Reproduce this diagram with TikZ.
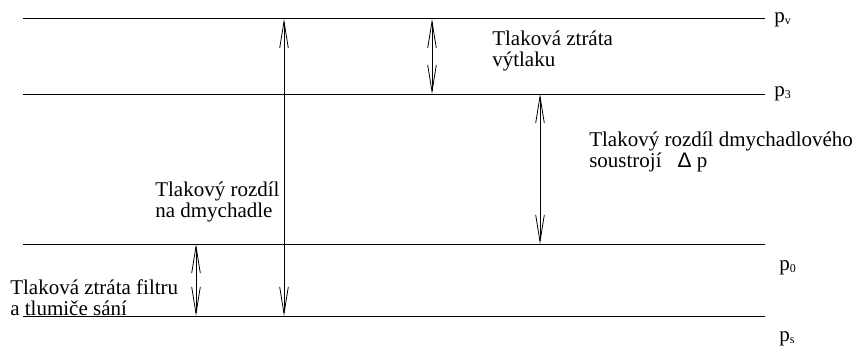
\documentclass[tikz,border=0pt]{standalone}
\usepackage{fontspec}
\setmainfont{Liberation Serif}
\newfontfamily\deltafont{Liberation Sans}
\usetikzlibrary{arrows.meta}
\newcommand{\sub}[1]{\raisebox{-1.5pt}{\fontsize{9pt}{9pt}\selectfont #1}}
\begin{document}
\begin{tikzpicture}[x=0.75pt,y=-0.75pt,
  level/.style={line width=0.75pt},
  barb/.tip={Straight Barb[length=20pt,width=6.5pt,line width=0.6pt]},
  gap/.style={line width=0.6pt,barb-barb},
  lbl/.style={font=\fontsize{15.75pt}{15.4pt}\selectfont,inner sep=0pt,align=left,anchor=base west},
  plab/.style={font=\fontsize{15.75pt}{15.4pt}\selectfont,inner sep=0pt,anchor=base west}]
\useasboundingbox (0,0) rectangle (855,346);

% pressure levels
\coordinate (pv-l) at (23,19);  \coordinate (pv-r) at (765,19);
\coordinate (p3-l) at (23,94);  \coordinate (p3-r) at (765,94);
\coordinate (p0-l) at (23,244); \coordinate (p0-r) at (765,244);
\coordinate (ps-l) at (23,316); \coordinate (ps-r) at (765,316);
\draw[level] (pv-l) -- (pv-r);
\draw[level] (p3-l) -- (p3-r);
\draw[level] (p0-l) -- (p0-r);
\draw[level] (ps-l) -- (ps-r);

% level labels
\node[plab] (lv) at (774,23)  {p\sub{v}};
\node[plab] (l3) at (774,96)  {p\sub{3}};
\node[plab] (l0) at (779,270) {p\sub{0}};
\node[plab] (ls) at (779,341) {p\sub{s}};

% dimension arrows
\coordinate (blower-t) at (284,19);  \coordinate (blower-b) at (284,316);
\coordinate (disch-t)  at (432,19);  \coordinate (disch-b)  at (432,94);
\coordinate (set-t)    at (540,94);  \coordinate (set-b)    at (540,244);
\coordinate (filt-t)   at (196,244); \coordinate (filt-b)   at (196,316);
\draw[gap] (blower-t) -- (blower-b);
\draw[gap] (disch-t) -- (disch-b);
\draw[gap] (set-t) -- (set-b);
\draw[gap] (filt-t) -- (filt-b);

% descriptions (anchored on the baseline of their last line)
\node[lbl] (tdisch) at (492,66) {Tlaková ztráta\\výtlaku};
\node[lbl] (tset) at (589,167) {Tlakový rozdíl dmychadlového\\soustrojí\hspace{12pt}{\deltafont Δ} p};
\node[lbl] (tblower) at (155,217) {Tlakový rozdíl\\na dmychadle};
\node[lbl] (tfilt) at (10,315) {Tlaková ztráta filtru\\a tlumiče sání};
\end{tikzpicture}
\end{document}
